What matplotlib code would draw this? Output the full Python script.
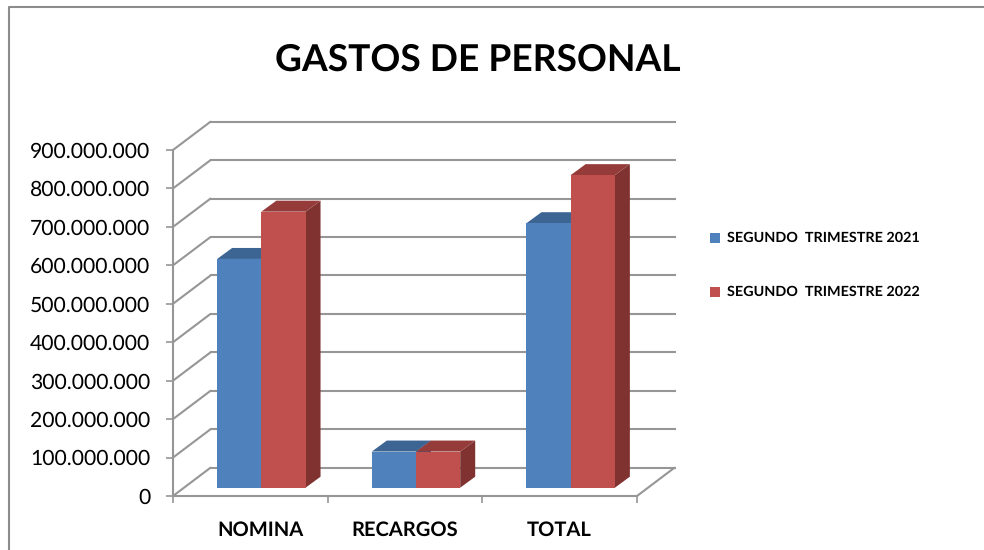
import matplotlib
matplotlib.use("Agg")
import matplotlib.pyplot as plt
from matplotlib.patches import Polygon, Rectangle
from matplotlib.lines import Line2D
from matplotlib.transforms import Affine2D

categories = ["NOMINA", "RECARGOS", "TOTAL"]
series_names = ["SEGUNDO  TRIMESTRE 2021", "SEGUNDO  TRIMESTRE 2022"]
values_2021 = [595e6, 94e6, 688e6]
values_2022 = [718e6, 94e6, 813e6]
y_ticks = [0, 100e6, 200e6, 300e6, 400e6, 500e6, 600e6, 700e6, 800e6, 900e6]
y_labels = ["0", "100.000.000", "200.000.000", "300.000.000", "400.000.000",
            "500.000.000", "600.000.000", "700.000.000", "800.000.000", "900.000.000"]

W, H = 984, 550
FONT = "Lato"
GRID = "#969696"
FRONT = ["#4f81bd", "#c0504d"]
TOP = ["#3d6594", "#953c3a"]
SIDE = ["#355a86", "#7f3230"]
LW = 1.5

plt.rcParams["text.hinting"] = "no_hinting"
plt.rcParams["text.hinting_factor"] = 8

fig = plt.figure(figsize=(W / 100, H / 100), dpi=100, facecolor="white")
ax = fig.add_axes([173 / W, 1 - 496 / H, (637 - 173) / W, (496 - 150) / H])
ax.set_xlim(0, 3)
ax.set_ylim(0, 900e6)
ax.patch.set_visible(False)
for s in ["top", "right"]:
    ax.spines[s].set_visible(False)
for s in ["left", "bottom"]:
    ax.spines[s].set_color(GRID)
    ax.spines[s].set_linewidth(LW)
ax.set_yticks(y_ticks)
ax.set_yticklabels(y_labels, fontsize=15.2, family=FONT, color="black")
ax.set_xticks([0, 1, 2, 3])
ax.set_xticklabels([])
ax.tick_params(axis="y", length=5.3, width=1.2, color=GRID, pad=11)
ax.tick_params(axis="x", length=5.3, width=1.2, color=GRID)

# oblique depth (display pixels)
WALL = (37.5, 28.3)
OFF = (11.0, 8.3)
DEPTH = (15.0, 11.0)


def shift(dx, dy):
    return ax.transData + Affine2D().translate(dx, dy)


wall_tf = shift(*WALL)
for t in y_ticks:
    ax.add_line(Line2D([0, 3], [t, t], transform=wall_tf, color=GRID, lw=LW, clip_on=False, zorder=1))
    ax.annotate("", xy=(0, t), xycoords="data", xytext=WALL, textcoords="offset pixels",
                arrowprops=dict(arrowstyle="-", color=GRID, lw=LW, shrinkA=0, shrinkB=0), zorder=1)
ax.annotate("", xy=(3, 0), xycoords="data", xytext=WALL, textcoords="offset pixels",
            arrowprops=dict(arrowstyle="-", color=GRID, lw=LW, shrinkA=0, shrinkB=0), zorder=1)

bar_w = 44.2 / ((637 - 173) / 3)
front_tf = shift(*OFF)
back_tf = shift(OFF[0] + DEPTH[0], OFF[1] + DEPTH[1])
for j, vals in enumerate([values_2021, values_2022]):
    for i, v in enumerate(vals):
        x0 = i + 0.5 + (j - 1) * bar_w
        x1 = x0 + bar_w
        # side face
        pts = [front_tf.transform((x1, 0)), back_tf.transform((x1, 0)),
               back_tf.transform((x1, v)), front_tf.transform((x1, v))]
        ax.add_patch(Polygon(pts, closed=True, transform=None, fc=SIDE[j], ec="none",
                             clip_on=False, zorder=3 + j))
        # top face
        pts = [front_tf.transform((x0, v)), front_tf.transform((x1, v)),
               back_tf.transform((x1, v)), back_tf.transform((x0, v))]
        ax.add_patch(Polygon(pts, closed=True, transform=None, fc=TOP[j], ec="none",
                             clip_on=False, zorder=3 + j))
    xs = [i + 0.5 + (j - 1) * bar_w for i in range(len(vals))]
    ax.bar(xs, vals, width=bar_w, align="edge", color=FRONT[j], transform=front_tf,
           clip_on=False, zorder=3.5 + j, linewidth=0)

for c, xc in zip(categories, [260, 405, 559]):
    fig.text(xc / W, 1 - 530 / H, c, ha="center", va="center",
             fontsize=14.5, fontweight="bold", family=FONT)

fig.text(477.5 / W, 1 - 60 / H, "GASTOS DE PERSONAL", ha="center", va="center",
         fontsize=26.7, fontweight="bold", family=FONT)

# legend
for name, col, yc in zip(series_names, FRONT, [237.5, 291.5]):
    fig.add_artist(Rectangle((710 / W, 1 - (yc + 5) / H), 10 / W, 10 / H, transform=fig.transFigure,
                             fc=col, ec="none"))
    fig.text(727 / W, 1 - yc / H, name, ha="left", va="center", fontsize=10.4,
             fontweight="bold", family=FONT)

# outer frame (top and left edges reach the image border)
fig.add_artist(Line2D([8.5 / W, 8.5 / W, 1], [0, 1 - 7 / H, 1 - 7 / H], transform=fig.transFigure,
                      color="#8c8c8c", lw=1.5))

fig.savefig("out.png", dpi=100, facecolor="white")
